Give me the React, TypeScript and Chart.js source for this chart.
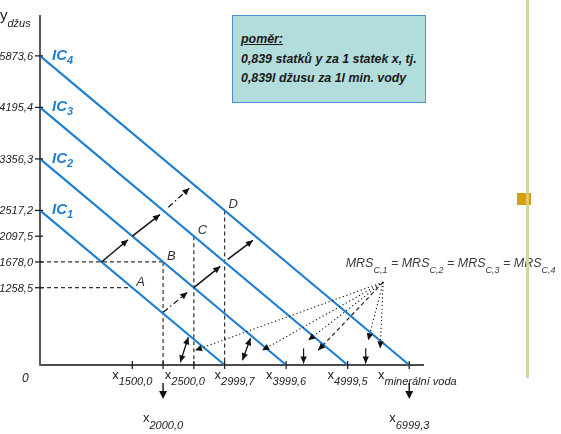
import React, { useEffect, useRef } from "react";
import { Chart, registerables } from "chart.js";

Chart.register(...registerables);

const FONT = '"Liberation Sans", Arial, sans-serif';
const IC_COLOR = "#1f7fd3";

// Indifference curves (perfect substitutes, MRS = 0.839)
const icNames = ["1", "2", "3", "4"];
const icYIntercepts = [2517.2, 3356.3, 4195.4, 5034.5];
const icXIntercepts = [2999.7, 3999.6, 4999.5, 6000];

// Y axis ticks
const yTickValues = [1258.5, 1678.0, 2097.5, 2517.2, 3356.3, 4195.4, 5034.5];
const yTickLabels = ["1258,5", "1678,0", "2097,5", "2517,2", "3356,3", "4195,4", "5873,6"];

// X axis ticks and labels
const xTickValues = [1500, 2000, 2500, 2999.7, 3999.6, 4999.5, 6000];
const xLabelValues = [1500, 2500, 2999.7, 3999.6, 4999.5];
const xLabelTexts = ["1500,0", "2500,0", "2999,7", "3999,6", "4999,5"];
const xLabelShift = [0, -9, 10, 0, 0];
const xDropValues = [2000, 6000];
const xDropTexts = ["2000,0", "6999,3"];
const xAxisName = "minerální voda";
const yAxisName = "džus";

// Bundles A-D
const pointNames = ["A", "B", "C", "D"];
const pointX = [1500, 2000, 2500, 3000];
const pointY = [1258.5, 1678.0, 2097.5, 2517.2];
const hGuideIdx = [0, 1];
const vGuideIdx = [1, 2, 3];

// Arrows between curves [x1, y1, x2, y2]
const solidArrows = [
  [1000, 1678, 1430, 2040],
  [1500, 2098, 1950, 2450],
  [2500, 1259, 2930, 1607],
  [3050, 1720, 3460, 2030],
];
const dashDotArrows = [
  [2085, 2568, 2427, 2878],
  [2003, 858, 2394, 1183],
];
const doubleArrows = [
  [2280, 44, 2410, 451],
  [3290, 77, 3420, 435],
];
const downArrows = [
  [4283, 272, 4283, 25],
  [5293, 272, 5293, 25],
];
// MRS label fan
const mrsApex = [5577, 1350];
const fanTargetX = [2520, 3610, 4358, 4520, 5333, 5528];
const fanTargetY = [239, 239, 402, 239, 402, 272];
const fanDashed = [false, false, false, true, false, false];
const mrsLabelAt = [4967, 1589];
const mrsSubs = ["C,1", "C,2", "C,3", "C,4"];

function arrowHead(ctx: CanvasRenderingContext2D, x1: number, y1: number, x2: number, y2: number, len = 7, half = 3.2) {
  const a = Math.atan2(y2 - y1, x2 - x1);
  const c = Math.cos(a), s = Math.sin(a);
  ctx.beginPath();
  ctx.moveTo(x2, y2);
  ctx.lineTo(x2 - len * c + half * s, y2 - len * s - half * c);
  ctx.lineTo(x2 - len * c - half * s, y2 - len * s + half * c);
  ctx.closePath();
  ctx.fill();
}

function drawSub(
  ctx: CanvasRenderingContext2D,
  main: string,
  sub: string,
  x: number,
  y: number,
  mainFont: string,
  subFont: string,
  subDy: number,
  align: "left" | "center" | "right"
) {
  ctx.font = mainFont;
  const w1 = ctx.measureText(main).width;
  ctx.font = subFont;
  const w2 = ctx.measureText(sub).width;
  const sx = align === "left" ? x : align === "center" ? x - (w1 + w2) / 2 : x - (w1 + w2);
  ctx.textAlign = "left";
  ctx.textBaseline = "alphabetic";
  ctx.font = mainFont;
  ctx.fillText(main, sx, y);
  ctx.font = subFont;
  ctx.fillText(sub, sx + w1, y + subDy);
  return sx + w1 + w2;
}

const overlay = {
  id: "overlay",
  beforeDatasetsDraw(chart: any) {
    const { ctx, chartArea: ca } = chart;
    ctx.save();
    ctx.strokeStyle = "#111";
    ctx.lineWidth = 1.4;
    ctx.beginPath();
    ctx.moveTo(ca.left, ca.bottom);
    ctx.lineTo(ca.right, ca.bottom);
    ctx.stroke();
    ctx.strokeStyle = "#5f5750";
    ctx.lineWidth = 2;
    ctx.beginPath();
    ctx.moveTo(ca.left, ca.bottom + 0.7);
    ctx.lineTo(ca.left, ca.top);
    ctx.stroke();
    ctx.restore();
  },
  afterDatasetsDraw(chart: any) {
    const { ctx, chartArea: ca } = chart;
    const xs = chart.scales.x;
    const ys = chart.scales.y;
    const px = (v: number) => xs.getPixelForValue(v);
    const py = (v: number) => ys.getPixelForValue(v);
    ctx.save();

    // y ticks + labels
    ctx.strokeStyle = "#222";
    ctx.lineWidth = 1.3;
    ctx.fillStyle = "#222";
    ctx.font = `italic 11px ${FONT}`;
    ctx.textAlign = "right";
    ctx.textBaseline = "middle";
    yTickValues.forEach((v, i) => {
      const yy = py(v);
      ctx.beginPath();
      ctx.moveTo(ca.left - 5, yy);
      ctx.lineTo(ca.left + 3, yy);
      ctx.stroke();
      ctx.fillText(yTickLabels[i], ca.left - 7, yy + 1);
    });

    // x ticks
    xTickValues.forEach((v) => {
      const xx = px(v);
      ctx.beginPath();
      ctx.moveTo(xx, ca.bottom - 4);
      ctx.lineTo(xx, ca.bottom + 4);
      ctx.stroke();
    });

    // x labels
    const mainF = `13px ${FONT}`;
    const subF = `italic 11px ${FONT}`;
    ctx.fillStyle = "#222";
    xLabelValues.forEach((v, i) => {
      drawSub(ctx, "x", xLabelTexts[i], px(v) + xLabelShift[i], ca.bottom + 14, mainF, subF, 6, "center");
    });
    drawSub(ctx, "x", xAxisName, ca.right - 46, ca.bottom + 14, mainF, subF, 6, "left");

    // drop arrows below axis
    xDropValues.forEach((v, i) => {
      const xx = px(v);
      ctx.strokeStyle = "#111";
      ctx.fillStyle = "#111";
      ctx.lineWidth = 1.4;
      ctx.beginPath();
      ctx.moveTo(xx, ca.bottom + 18);
      ctx.lineTo(xx, ca.bottom + 30);
      ctx.stroke();
      arrowHead(ctx, xx, ca.bottom + 18, xx, ca.bottom + 34, 8, 4);
      ctx.fillStyle = "#222";
      drawSub(ctx, "x", xDropTexts[i], xx, ca.bottom + 57, mainF, subF, 7, "center");
    });

    // axis titles
    ctx.fillStyle = "#222";
    drawSub(ctx, "y", yAxisName, ca.left - 40, ca.top + 5, `15px ${FONT}`, `italic 11px ${FONT}`, 7, "left");
    ctx.font = `italic 12px ${FONT}`;
    ctx.textAlign = "left";
    ctx.fillText("0", ca.left - 18, ca.bottom + 17);

    // IC labels
    ctx.fillStyle = IC_COLOR;
    icYIntercepts.forEach((v, i) => {
      drawSub(ctx, "IC", icNames[i], ca.left + 12, py(v) + 4, `bold italic 15px ${FONT}`, `bold italic 11px ${FONT}`, 4, "left");
    });

    // point labels
    ctx.fillStyle = "#333";
    ctx.font = `italic 13px ${FONT}`;
    ctx.textAlign = "left";
    ctx.textBaseline = "alphabetic";
    pointNames.forEach((n, i) => {
      ctx.fillText(n, px(pointX[i]) + 4, py(pointY[i]) - 2);
    });

    // arrows
    ctx.strokeStyle = "#111";
    ctx.fillStyle = "#111";
    const drawArrow = (a: number[], dash: number[], width: number, both = false) => {
      const x1 = px(a[0]), y1 = py(a[1]), x2 = px(a[2]), y2 = py(a[3]);
      ctx.lineWidth = width;
      ctx.setLineDash(dash);
      ctx.beginPath();
      ctx.moveTo(x1, y1);
      ctx.lineTo(x2, y2);
      ctx.stroke();
      ctx.setLineDash([]);
      arrowHead(ctx, x1, y1, x2, y2);
      if (both) arrowHead(ctx, x2, y2, x1, y1);
    };
    solidArrows.forEach((a) => drawArrow(a, [], 1.5));
    dashDotArrows.forEach((a) => drawArrow(a, [6, 3, 1.5, 3], 1.2));
    doubleArrows.forEach((a) => drawArrow(a, [], 1.3, true));
    downArrows.forEach((a) => drawArrow(a, [], 1.2));
    fanTargetX.forEach((tx, i) => {
      drawArrow([mrsApex[0], mrsApex[1], tx, fanTargetY[i]], fanDashed[i] ? [4, 3] : [1.2, 2.6], 1.1);
    });

    // MRS label
    ctx.fillStyle = "#3a3a3a";
    let cx = px(mrsLabelAt[0]);
    const by = py(mrsLabelAt[1]);
    mrsSubs.forEach((s, i) => {
      cx = drawSub(ctx, "MRS", s, cx, by, `italic 12.5px ${FONT}`, `italic 9px ${FONT}`, 6, "left");
      if (i < mrsSubs.length - 1) {
        ctx.font = `italic 12.5px ${FONT}`;
        ctx.fillText(" = ", cx, by);
        cx += ctx.measureText(" = ").width;
      }
    });

    ctx.restore();
  },
};

export default function App() {
  const canvasRef = useRef<HTMLCanvasElement | null>(null);

  useEffect(() => {
    const canvas = canvasRef.current;
    if (!canvas) return;
    const datasets: any[] = [];
    icYIntercepts.forEach((yi, i) => {
      datasets.push({
        label: "IC" + icNames[i],
        data: [
          { x: 0, y: yi },
          { x: icXIntercepts[i], y: 0 },
        ],
        borderColor: IC_COLOR,
        borderWidth: 2.2,
        pointRadius: 0,
        showLine: true,
        clip: false,
      });
    });
    hGuideIdx.forEach((k) => {
      datasets.push({
        label: "h" + pointNames[k],
        data: [
          { x: 0, y: pointY[k] },
          { x: pointX[k], y: pointY[k] },
        ],
        borderColor: "#333",
        borderWidth: 1.2,
        borderDash: [4, 3],
        pointRadius: 0,
        showLine: true,
        clip: false,
      });
    });
    vGuideIdx.forEach((k) => {
      datasets.push({
        label: "v" + pointNames[k],
        data: [
          { x: pointX[k], y: pointY[k] },
          { x: pointX[k], y: 0 },
        ],
        borderColor: "#333",
        borderWidth: 1.2,
        borderDash: [4, 3],
        pointRadius: 0,
        showLine: true,
        clip: false,
      });
    });

    const chart = new Chart(canvas, {
      type: "scatter",
      data: { datasets },
      options: {
        animation: false,
        responsive: false,
        maintainAspectRatio: false,
        layout: { padding: { left: 40, top: 15, right: 137, bottom: 69 } },
        scales: {
          x: { type: "linear", min: 0, max: 6240, display: false },
          y: { type: "linear", min: 0, max: 5700, display: false },
        },
        plugins: { legend: { display: false }, tooltip: { enabled: false } },
        events: [],
      },
      plugins: [overlay],
    });
    return () => chart.destroy();
  }, []);

  return (
    <div style={{ position: "fixed", left: 0, top: 0, width: 561, height: 434, background: "#fff", overflow: "hidden" }}>
      <canvas ref={canvasRef} width={561} height={434} style={{ position: "absolute", left: 0, top: 0, width: 561, height: 434 }} />
      <div
        style={{
          position: "absolute",
          left: 232,
          top: 15,
          width: 194,
          height: 88,
          background: "#b3dcdc",
          border: "1.5px solid #4a90d2",
          fontFamily: FONT,
          fontStyle: "italic",
          fontWeight: "bold",
          fontSize: 12.4,
          color: "#1a1a1a",
          lineHeight: "19.5px",
          padding: "14px 0 0 8px",
          boxSizing: "border-box",
          whiteSpace: "nowrap",
        }}
      >
        <div style={{ textDecoration: "underline" }}>poměr:</div>
        <div>0,839 statků y za 1 statek x, tj.</div>
        <div>0,839l džusu za 1l min. vody</div>
      </div>
      <div style={{ position: "absolute", left: 526, top: 0, width: 3, height: 378, background: "#d4d3a2" }} />
      <div style={{ position: "absolute", left: 517, top: 193, width: 14, height: 12, background: "#d3a012" }} />
      <div style={{ position: "absolute", left: 526, top: 193, width: 3, height: 12, background: "#e6c66a" }} />
    </div>
  );
}
